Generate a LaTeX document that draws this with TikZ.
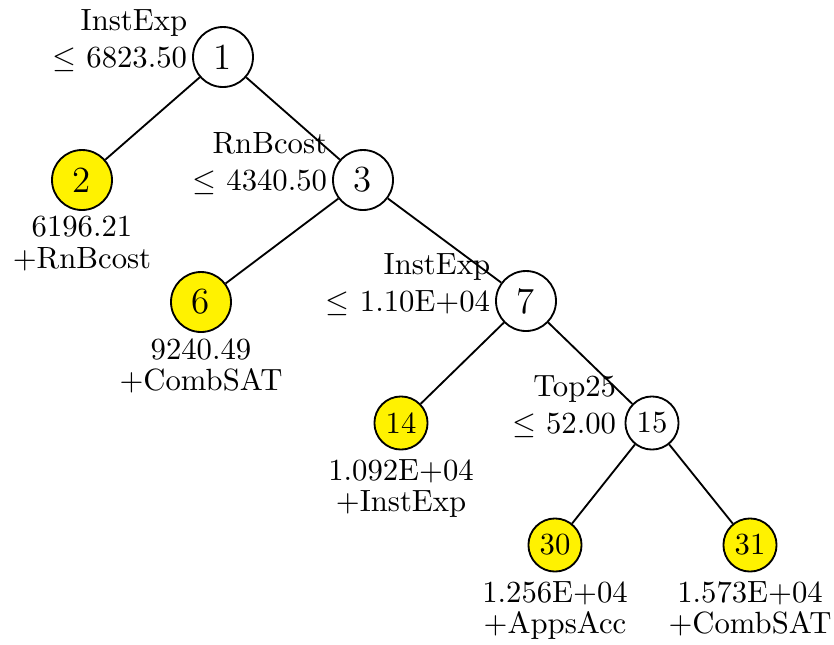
\documentclass[tikz,border=0pt]{standalone}
\begin{document}
\begin{tikzpicture}[x=0.3257pt, y=-0.3257pt,
  tnode/.style={circle, draw, line width=0.6pt, minimum size=19.54pt, inner sep=0pt, font=\large},
  tsmall/.style={tnode, minimum size=17.3pt, font=\normalsize},
  leaf/.style={fill=yellow},
  link/.style={line width=0.6pt},
  cond/.style={anchor=east, align=right, inner sep=0pt},
  res/.style={anchor=north, align=center, inner sep=0pt}]
\useasboundingbox (0,0) rectangle (834,644);

\node[tnode] (n1) at (223,57) {1};
\node[tnode, leaf] (n2) at (82,180) {2};
\node[tnode] (n3) at (363,180) {3};
\node[tnode, leaf] (n6) at (201,302) {6};
\node[tnode] (n7) at (526,301) {7};
\node[tsmall, leaf] (n14) at (401,423) {14};
\node[tsmall] (n15) at (652,423) {15};
\node[tsmall, leaf] (n30) at (555,545) {30};
\node[tsmall, leaf] (n31) at (750,545) {31};

\draw[link] (n1) -- (n2);
\draw[link] (n1) -- (n3);
\draw[link] (n3) -- (n6);
\draw[link] (n3) -- (n7);
\draw[link] (n7) -- (n14);
\draw[link] (n7) -- (n15);
\draw[link] (n15) -- (n30);
\draw[link] (n15) -- (n31);

\node[cond] (c1) at ([xshift=-11.5pt,yshift=5.3pt]n1.center) {InstExp\\$\leq$ 6823.50};
\node[cond] (c3) at ([xshift=-11.5pt,yshift=5.3pt]n3.center) {RnBcost\\$\leq$ 4340.50};
\node[cond] (c7) at ([xshift=-11.5pt,yshift=5.3pt]n7.center) {InstExp\\$\leq$ 1.10E+04};
\node[cond] (c15) at ([xshift=-11.5pt,yshift=5.3pt]n15.center) {Top25\\$\leq$ 52.00};

\node[res] (r2) at ([yshift=-11.6pt]n2.center) {6196.21\\[-1.8pt]+RnBcost};
\node[res] (r6) at ([yshift=-11.6pt]n6.center) {9240.49\\[-1.8pt]+CombSAT};
\node[res] (r14) at ([yshift=-11.6pt]n14.center) {1.092E+04\\[-1.8pt]+InstExp};
\node[res] (r30) at ([yshift=-11.6pt]n30.center) {1.256E+04\\[-1.8pt]+AppsAcc};
\node[res] (r31) at ([yshift=-11.6pt]n31.center) {1.573E+04\\[-1.8pt]+CombSAT};
\end{tikzpicture}
\end{document}
